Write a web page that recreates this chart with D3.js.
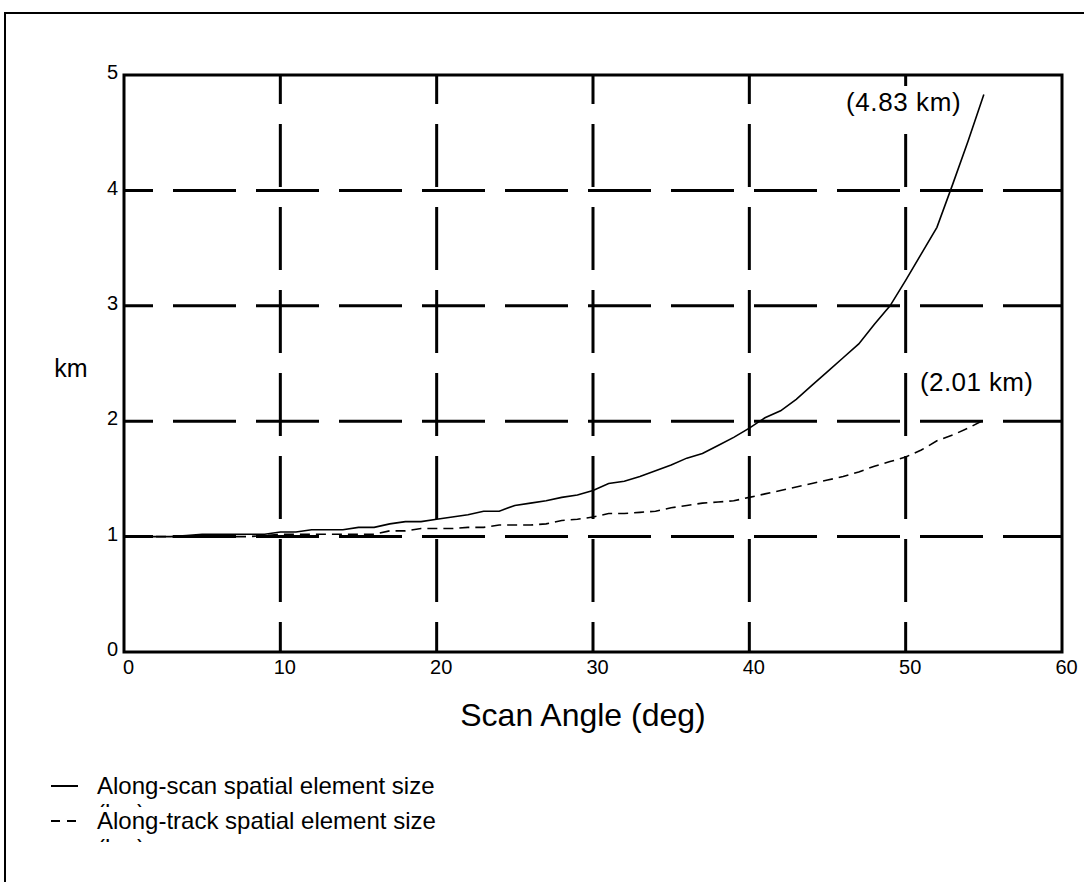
<!DOCTYPE html>
<html>
<head>
<meta charset="utf-8">
<title>Spatial element size vs scan angle</title>
<script src="https://cdn.jsdelivr.net/npm/d3@7/dist/d3.min.js"></script>
<style>
html, body{ margin:0; padding:0; background:#fff; overflow:hidden; }
svg{ display:block; }
svg text{ font-family:"Liberation Sans", Arial, sans-serif; fill:#000; }
</style>
</head>
<body>
<svg id="chart" width="1084" height="882"></svg>
<script>

// data (one point per degree)
var scanAngle = d3.range(0, 56);
var alongScan = [
	1.00,1.00,1.00,1.00,1.01,1.02,1.02,1.02,1.02,1.02,
	1.04,1.04,1.06,1.06,1.06,1.08,1.08,1.11,1.13,1.13,
	1.15,1.17,1.19,1.22,1.22,1.27,1.29,1.31,1.34,1.36,
	1.40,1.46,1.48,1.52,1.57,1.62,1.68,1.72,1.79,1.86,
	1.94,2.03,2.09,2.19,2.31,2.43,2.55,2.67,2.84,3.00,
	3.22,3.45,3.68,4.05,4.43,4.83
];
var alongTrack = [
	1.00,1.00,1.00,1.00,1.00,1.00,1.00,1.00,1.00,1.01,
	1.02,1.02,1.02,1.02,1.02,1.02,1.02,1.05,1.05,1.07,
	1.07,1.07,1.08,1.08,1.10,1.10,1.10,1.11,1.14,1.15,
	1.17,1.20,1.20,1.21,1.22,1.25,1.27,1.29,1.30,1.31,
	1.34,1.37,1.40,1.43,1.46,1.49,1.52,1.56,1.61,1.65,
	1.69,1.75,1.83,1.88,1.94,2.01
];
var xTicks = [0, 10, 20, 30, 40, 50, 60];
var yTicks = [0, 1, 2, 3, 4, 5];
var endLabels = ["(4.83 km)", "(2.01 km)"];
var legendLabels = ["Along-scan spatial element size", "Along-track spatial element size"];

var svg = d3.select("#chart");
var defs = svg.append("defs");

// outer frame: only the left and top edges are inside the picture
svg.append("path")
	.attr("d", "M5,900V13H1100")
	.attr("fill", "none")
	.attr("stroke", "#000")
	.attr("stroke-width", 2);

var x = d3.scaleLinear().domain([0, 60]).range([124, 1062]);
var y = d3.scaleLinear().domain([0, 5]).range([652, 75]);

// dashed grid
svg.append("g").selectAll("line")
	.data(xTicks.slice(1, -1))
	.enter().append("line")
	.attr("x1", function(d){ return x(d); })
	.attr("x2", function(d){ return x(d); })
	.attr("y1", y(0))
	.attr("y2", y(5))
	.attr("stroke", "#000")
	.attr("stroke-width", 3)
	.attr("stroke-dasharray", "63,20")
	.attr("stroke-dashoffset", 33);

svg.append("g").selectAll("line")
	.data(yTicks.slice(1, -1))
	.enter().append("line")
	.attr("x1", x(0))
	.attr("x2", x(60))
	.attr("y1", function(d){ return y(d); })
	.attr("y2", function(d){ return y(d); })
	.attr("stroke", "#000")
	.attr("stroke-width", 3)
	.attr("stroke-dasharray", "63,20")
	.attr("stroke-dashoffset", 34);

// the top note sits on a white box that hides the grid under it
svg.append("rect")
	.attr("x", 842).attr("y", 86)
	.attr("width", 122).attr("height", 48)
	.attr("fill", "#fff");

// plot frame
svg.append("rect")
	.attr("x", x(0)).attr("y", y(5))
	.attr("width", x(60) - x(0))
	.attr("height", y(0) - y(5))
	.attr("fill", "none")
	.attr("stroke", "#000")
	.attr("stroke-width", 3);

// axes (labels only)
var xAxis = d3.axisBottom(x).tickValues(xTicks).tickFormat(d3.format("d")).tickSize(0).tickPadding(0);
var gx = svg.append("g")
	.attr("transform", "translate(0," + y(0) + ")")
	.call(xAxis);
gx.select(".domain").remove();
gx.selectAll("text")
	.attr("dx", 4)
	.attr("y", 8)
	.attr("dy", "0.71em")
	.style("font-size", "20px")
	.style("font-family", "'Liberation Sans', Arial, sans-serif");

var yAxis = d3.axisLeft(y).tickValues(yTicks).tickFormat(d3.format("d")).tickSize(0).tickPadding(0);
var gy = svg.append("g")
	.attr("transform", "translate(" + (x(0) - 6) + ",0)")
	.call(yAxis);
gy.select(".domain").remove();
gy.selectAll("text")
	.attr("dy", "0.18em")
	.style("font-size", "20px")
	.style("font-family", "'Liberation Sans', Arial, sans-serif");

// series
var line = d3.line()
	.x(function(d, i){ return x(scanAngle[i]); })
	.y(function(d){ return y(d); });

svg.append("path")
	.datum(alongScan)
	.attr("d", line)
	.attr("fill", "none")
	.attr("stroke", "#000")
	.attr("stroke-width", 1.6);

svg.append("path")
	.datum(alongTrack)
	.attr("d", line)
	.attr("fill", "none")
	.attr("stroke", "#000")
	.attr("stroke-width", 1.6)
	.attr("stroke-dasharray", "10,6");

// end value notes
svg.append("text")
	.attr("x", 846).attr("y", 111)
	.style("font-size", "26px")
	.style("letter-spacing", "0.6px")
	.text(endLabels[0]);

svg.append("text")
	.attr("x", 920).attr("y", 391)
	.style("font-size", "26px")
	.style("letter-spacing", "0.4px")
	.text(endLabels[1]);

// axis titles
svg.append("text")
	.attr("x", 71).attr("y", 377)
	.attr("text-anchor", "middle")
	.style("font-size", "25px")
	.text("km");

svg.append("text")
	.attr("x", 583).attr("y", 726)
	.attr("text-anchor", "middle")
	.style("font-size", "32px")
	.text("Scan Angle (deg)");

// legend, the "(km)" second lines are cut off under the next row
var legend = svg.append("g");
legendLabels.forEach(function(label, i){
	var base = 794 + i * 35;
	var clipId = "legclip" + i;
	defs.append("clipPath").attr("id", clipId)
		.append("rect")
		.attr("x", 90).attr("y", base + 8)
		.attr("width", 120).attr("height", 5);

	legend.append("line")
		.attr("x1", 51).attr("x2", 78)
		.attr("y1", base - 8).attr("y2", base - 8)
		.attr("stroke", "#000")
		.attr("stroke-width", 2)
		.attr("stroke-dasharray", i === 0 ? null : "9,7");

	legend.append("text")
		.attr("x", 97).attr("y", base)
		.style("font-size", "24px")
		.text(label);

	legend.append("text")
		.attr("x", 97).attr("y", base + 27)
		.attr("clip-path", "url(#" + clipId + ")")
		.style("font-size", "24px")
		.text("(km)");
});

</script>
</body>
</html>
